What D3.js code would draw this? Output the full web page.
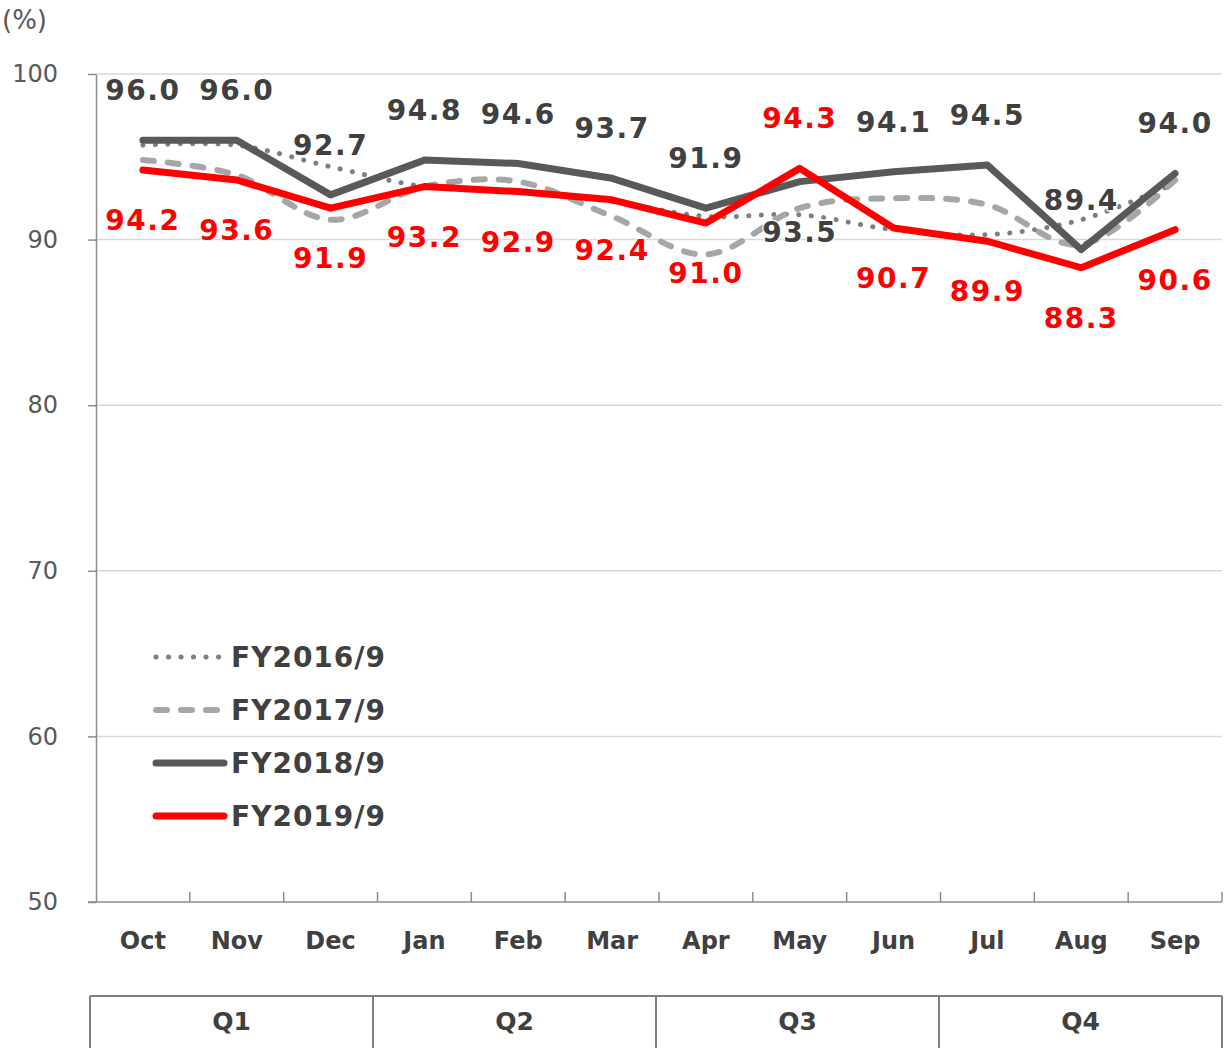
<!DOCTYPE html>
<html>
<head>
<meta charset="utf-8">
<script src="https://cdn.jsdelivr.net/npm/d3@7"></script>
<style>
  body { margin: 0; background: #fff; }
  svg { display: block; font-family: "DejaVu Sans", Verdana, sans-serif; }
</style>
</head>
<body>
<svg id="chart"></svg>
<script>
const months = ['Oct', 'Nov', 'Dec', 'Jan', 'Feb', 'Mar', 'Apr', 'May', 'Jun', 'Jul', 'Aug', 'Sep'];
const quarters = ['Q1', 'Q2', 'Q3', 'Q4'];
const yTicks = [50, 60, 70, 80, 90, 100];

const fy2016 = [95.7, 95.7, 94.4, 93.2, 92.9, 92.3, 91.4, 91.5, 90.6, 90.3, 91.2, 93.4];
const fy2017 = [94.8, 93.9, 91.2, 93.2, 93.5, 91.4, 89.1, 91.9, 92.5, 92.1, 89.7, 93.6];
const fy2018 = [96.0, 96.0, 92.7, 94.8, 94.6, 93.7, 91.9, 93.5, 94.1, 94.5, 89.4, 94.0];
const fy2019 = [94.2, 93.6, 91.9, 93.2, 92.9, 92.4, 91.0, 94.3, 90.7, 89.9, 88.3, 90.6];

// label above (-1) or below (+1) the point
const pos2018 = [-1, -1, -1, -1, -1, -1, -1, 1, -1, -1, -1, -1];
const pos2019 = [1, 1, 1, 1, 1, 1, 1, -1, 1, 1, 1, 1];

const W = 1224, H = 1048;
const mLeft = 96, mRight = 1222, mTop = 74, mBottom = 902;
const FONT = '"DejaVu Sans", Verdana, sans-serif';

const svg = d3.select('#chart').attr('width', W).attr('height', H);

const x = d3.scaleBand().domain(months).range([mLeft, mRight]);
const y = d3.scaleLinear().domain([50, 100]).range([mBottom, mTop]);
const cx = m => x(m) + x.bandwidth() / 2;

// grid
svg.append('g')
  .selectAll('line')
  .data(yTicks.filter(d => d > 50))
  .join('line')
    .attr('x1', mLeft).attr('x2', mRight)
    .attr('y1', d => y(d)).attr('y2', d => y(d))
    .attr('stroke', '#d9d9d9')
    .attr('stroke-width', 1.5);

// y axis
const yAxis = svg.append('g')
  .attr('transform', `translate(${mLeft},0)`)
  .call(d3.axisLeft(y).tickValues(yTicks).tickSize(8).tickPadding(30).tickSizeOuter(0))
  .attr('font-family', FONT)
  .attr('font-size', 24);
yAxis.select('.domain').attr('stroke', '#8c8c8c').attr('stroke-width', 1.5);
yAxis.selectAll('.tick line').attr('stroke', '#8c8c8c').attr('stroke-width', 1.5);
yAxis.selectAll('.tick text').attr('fill', '#595959');

svg.append('text')
  .attr('x', 2).attr('y', 29)
  .attr('fill', '#595959')
  .style('font-size', '26px')
  .text('(%)');

// x axis
const xAxis = svg.append('g')
  .attr('transform', `translate(0,${mBottom})`)
  .call(d3.axisBottom(x).tickSize(0).tickPadding(30).tickSizeOuter(0))
  .attr('font-family', FONT)
  .attr('font-size', 24)
  .attr('font-weight', 'bold');
xAxis.select('.domain').remove();
xAxis.selectAll('.tick text').attr('fill', '#404040');

svg.append('line')
  .attr('x1', mLeft - 8).attr('x2', mRight)
  .attr('y1', mBottom).attr('y2', mBottom)
  .attr('stroke', '#8c8c8c').attr('stroke-width', 1.5);

svg.append('g')
  .selectAll('line')
  .data(months.map(m => x(m)).concat([mRight]).slice(1))
  .join('line')
    .attr('x1', d => d).attr('x2', d => d)
    .attr('y1', mBottom).attr('y2', mBottom - 10)
    .attr('stroke', '#8c8c8c').attr('stroke-width', 1.5);

// quarters box
const q = d3.scaleBand().domain(quarters).range([90, mRight]);
const qg = svg.append('g');
qg.append('line')
  .attr('x1', q.range()[0]).attr('x2', q.range()[1])
  .attr('y1', 996).attr('y2', 996)
  .attr('stroke', '#7f7f7f').attr('stroke-width', 2);
qg.selectAll('line.div')
  .data(quarters.map(d => q(d)).concat([mRight]))
  .join('line')
    .attr('class', 'div')
    .attr('x1', d => d).attr('x2', d => d)
    .attr('y1', 996).attr('y2', H)
    .attr('stroke', '#7f7f7f').attr('stroke-width', 2);
qg.selectAll('text')
  .data(quarters)
  .join('text')
    .attr('x', d => q(d) + q.bandwidth() / 2)
    .attr('y', 1030)
    .attr('text-anchor', 'middle')
    .attr('fill', '#404040')
    .style('font-size', '25px')
    .style('font-weight', 'bold')
    .text(d => d);

// lines
const series = [
  { name: 'FY2016/9', values: fy2016, color: '#7f7f7f', width: 5, dash: '0.1 12.4', curve: d3.curveCardinal.tension(0) },
  { name: 'FY2017/9', values: fy2017, color: '#a6a6a6', width: 6, dash: '11 14', curve: d3.curveCardinal.tension(0) },
  { name: 'FY2018/9', values: fy2018, color: '#595959', width: 7, dash: null, curve: d3.curveLinear },
  { name: 'FY2019/9', values: fy2019, color: '#ff0000', width: 7, dash: null, curve: d3.curveLinear }
];

series.forEach(s => {
  const line = d3.line()
    .x((_, i) => cx(months[i]))
    .y(d => y(d))
    .curve(s.curve);
  svg.append('path')
    .datum(s.values)
    .attr('d', line)
    .attr('fill', 'none')
    .attr('stroke', s.color)
    .attr('stroke-width', s.width)
    .attr('stroke-linecap', 'round')
    .attr('stroke-linejoin', 'round')
    .attr('stroke-dasharray', s.dash);
});

// data labels
function labels(values, pos, color) {
  svg.append('g')
    .selectAll('text')
    .data(values)
    .join('text')
      .attr('x', (_, i) => cx(months[i]))
      .attr('y', (d, i) => y(d) + pos[i] * 50)
      .attr('dy', '0.36em')
      .attr('text-anchor', 'middle')
      .attr('fill', color)
      .attr('stroke', 'rgba(255,255,255,0.8)')
      .attr('stroke-width', 3)
      .attr('paint-order', 'stroke')
      .style('font-size', '28px')
      .style('font-weight', 'bold')
      .style('letter-spacing', '1.5px')
      .text(d => d.toFixed(1));
}
labels(fy2018, pos2018, '#404040');
labels(fy2019, pos2019, '#ff0000');

// legend
const legend = svg.append('g')
  .selectAll('g')
  .data(series)
  .join('g')
    .attr('transform', (_, i) => `translate(0,${657 + i * 53})`);
legend.append('line')
  .attr('x1', 156).attr('x2', 224)
  .attr('stroke', d => d.color)
  .attr('stroke-width', d => d.width)
  .attr('stroke-linecap', 'round')
  .attr('stroke-dasharray', d => d.dash);
legend.append('text')
  .attr('x', 231)
  .attr('dy', '0.36em')
  .attr('fill', '#404040')
  .style('font-size', '28px')
  .style('font-weight', 'bold')
  .style('letter-spacing', '1px')
  .text(d => d.name);
</script>
</body>
</html>
